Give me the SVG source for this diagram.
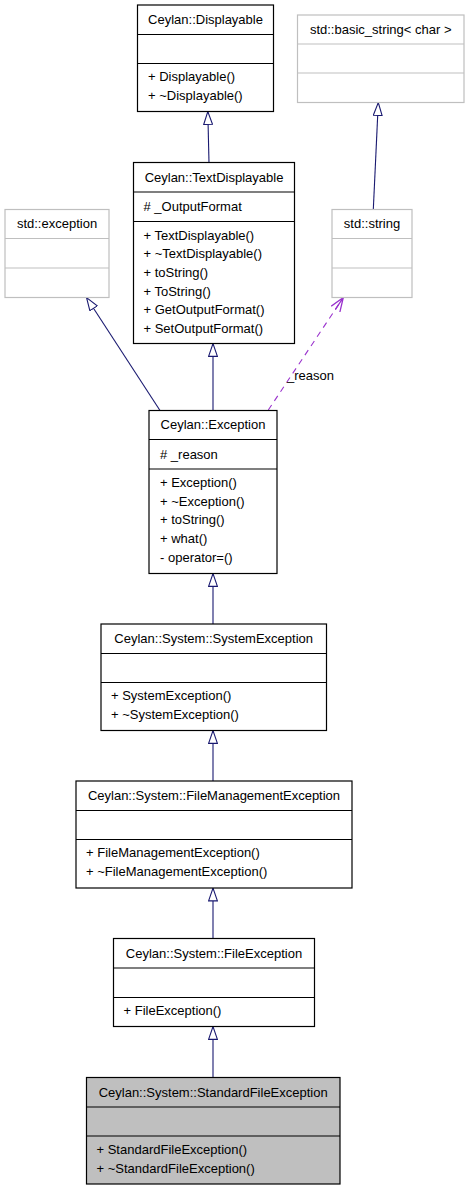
<svg xmlns="http://www.w3.org/2000/svg" width="468" height="1189" viewBox="0 0 468 1189">
<style>
text{font-family:"Liberation Sans",Arial,Helvetica,sans-serif;font-size:13px;fill:#000}
.t{text-anchor:middle}
.box{fill:#fff;stroke:#000;stroke-width:1.2}
.sep{stroke:#000;stroke-width:1.2}
.gbox{fill:#fff;stroke:#bfbfbf;stroke-width:1.2}
.gsep{stroke:#bfbfbf;stroke-width:1.2}
.cur{fill:#bfbfbf;stroke:#000;stroke-width:1.2}
.inh{fill:none;stroke:#191970;stroke-width:1.1;marker-end:url(#tri)}
.use{fill:none;stroke:#9a32cd;stroke-width:1.1;stroke-dasharray:6,5;marker-end:url(#vee)}
</style>
<defs>
<marker id="tri" viewBox="0 0 14 10" refX="13.5" refY="5" markerWidth="14" markerHeight="10" markerUnits="userSpaceOnUse" orient="auto">
<path d="M0.6,0.6 L13.4,5 L0.6,9.4 Z" fill="#fff" stroke="#191970" stroke-width="1.1"/>
</marker>
<marker id="vee" viewBox="0 0 15 12" refX="14.5" refY="6" markerWidth="15" markerHeight="12" markerUnits="userSpaceOnUse" orient="auto">
<path d="M0.5,0.8 L14.5,6 L0.5,11.2 M0,6 L14.5,6" fill="none" stroke="#9a32cd" stroke-width="1.3"/>
</marker>
</defs>
<g id="connectors">
<path class="inh" d="M209,162.5 L207.8,111.5"/>
<path class="inh" d="M373.3,209.5 L378.3,102.5"/>
<path class="inh" d="M160,410.5 L86.5,297.5"/>
<path class="inh" d="M213,410.5 L213,343.5"/>
<path class="use" d="M268.3,410 L343.3,297.5"/>
<text x="287" y="379.5">_reason</text>
<path class="inh" d="M213,624 L213,573.5"/>
<path class="inh" d="M213,781 L213,730.5"/>
<path class="inh" d="M213,938.5 L213,888"/>
<path class="inh" d="M213,1077.5 L213,1026.5"/>
</g>
<g id="displayable">
<rect class="box" x="137.5" y="5" width="136" height="106.5"/>
<line class="sep" x1="137.5" y1="34.5" x2="273.5" y2="34.5"/>
<line class="sep" x1="137.5" y1="63.5" x2="273.5" y2="63.5"/>
<text class="t" x="205.5" y="24">Ceylan::Displayable</text>
<text x="148" y="81.3">+ Displayable()</text>
<text x="148" y="100">+ ~Displayable()</text>
</g>
<g id="basic_string">
<rect class="gbox" x="297.5" y="15" width="166.5" height="87.5"/>
<line class="gsep" x1="297.5" y1="44" x2="464" y2="44"/>
<line class="gsep" x1="297.5" y1="73" x2="464" y2="73"/>
<text class="t" x="380.7" y="33.8">std::basic_string&lt; char &gt;</text>
</g>
<g id="textdisplayable">
<rect class="box" x="133.5" y="162.5" width="161" height="181"/>
<line class="sep" x1="133.5" y1="192" x2="294.5" y2="192"/>
<line class="sep" x1="133.5" y1="221.5" x2="294.5" y2="221.5"/>
<text class="t" x="214" y="181.8">Ceylan::TextDisplayable</text>
<text x="143.5" y="211.3"># _OutputFormat</text>
<text x="143.5" y="239.5">+ TextDisplayable()</text>
<text x="143.5" y="258.2">+ ~TextDisplayable()</text>
<text x="143.5" y="276.9">+ toString()</text>
<text x="143.5" y="295.6">+ ToString()</text>
<text x="143.5" y="314.3">+ GetOutputFormat()</text>
<text x="143.5" y="333">+ SetOutputFormat()</text>
</g>
<g id="std_exception">
<rect class="gbox" x="5" y="209.5" width="104" height="88"/>
<line class="gsep" x1="5" y1="238.5" x2="109" y2="238.5"/>
<line class="gsep" x1="5" y1="268" x2="109" y2="268"/>
<text class="t" x="57" y="228.3">std::exception</text>
</g>
<g id="std_string">
<rect class="gbox" x="332" y="209.5" width="80" height="88"/>
<line class="gsep" x1="332" y1="238.5" x2="412" y2="238.5"/>
<line class="gsep" x1="332" y1="268" x2="412" y2="268"/>
<text class="t" x="372" y="228.3">std::string</text>
</g>
<g id="exception">
<rect class="box" x="149" y="410.5" width="128" height="163"/>
<line class="sep" x1="149" y1="439.5" x2="277" y2="439.5"/>
<line class="sep" x1="149" y1="469" x2="277" y2="469"/>
<text class="t" x="213" y="429.3">Ceylan::Exception</text>
<text x="160" y="458.5"># _reason</text>
<text x="160" y="487">+ Exception()</text>
<text x="160" y="505.7">+ ~Exception()</text>
<text x="160" y="524.4">+ toString()</text>
<text x="160" y="543.1">+ what()</text>
<text x="160" y="561.8">- operator=()</text>
</g>
<g id="systemexception">
<rect class="box" x="101" y="624" width="225.5" height="106.5"/>
<line class="sep" x1="101" y1="653.5" x2="326.5" y2="653.5"/>
<line class="sep" x1="101" y1="682.5" x2="326.5" y2="682.5"/>
<text class="t" x="213.7" y="643.2">Ceylan::System::SystemException</text>
<text x="111" y="700.3">+ SystemException()</text>
<text x="111" y="719">+ ~SystemException()</text>
</g>
<g id="filemanagementexception">
<rect class="box" x="76" y="781" width="276" height="107"/>
<line class="sep" x1="76" y1="810.5" x2="352" y2="810.5"/>
<line class="sep" x1="76" y1="839.5" x2="352" y2="839.5"/>
<text class="t" x="214" y="800.2">Ceylan::System::FileManagementException</text>
<text x="86" y="857.3">+ FileManagementException()</text>
<text x="86" y="876">+ ~FileManagementException()</text>
</g>
<g id="fileexception">
<rect class="box" x="113.5" y="938.5" width="201" height="88"/>
<line class="sep" x1="113.5" y1="968" x2="314.5" y2="968"/>
<line class="sep" x1="113.5" y1="997.5" x2="314.5" y2="997.5"/>
<text class="t" x="214" y="957.6">Ceylan::System::FileException</text>
<text x="123.5" y="1015.3">+ FileException()</text>
</g>
<g id="standardfileexception">
<rect class="cur" x="86.5" y="1077.5" width="253.5" height="106.5"/>
<line class="sep" x1="86.5" y1="1107" x2="340" y2="1107"/>
<line class="sep" x1="86.5" y1="1136" x2="340" y2="1136"/>
<text class="t" x="213.2" y="1096.6">Ceylan::System::StandardFileException</text>
<text x="96.5" y="1153.8">+ StandardFileException()</text>
<text x="96.5" y="1172.5">+ ~StandardFileException()</text>
</g>
</svg>
